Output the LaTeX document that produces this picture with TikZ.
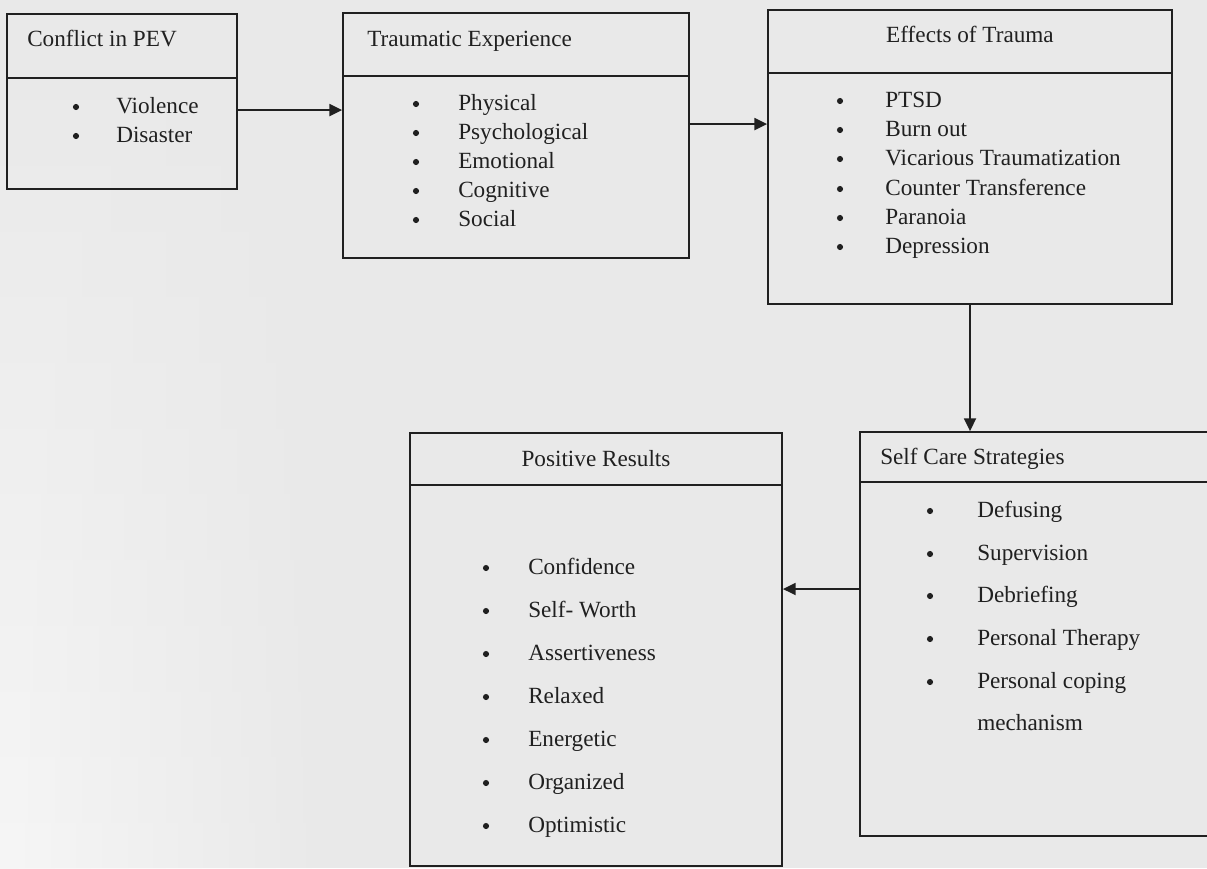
\documentclass[tikz,border=0pt]{standalone}
\usepackage{fontspec}
\setmainfont{Liberation Serif}
\usetikzlibrary{arrows.meta,fadings}
\definecolor{paper}{RGB}{233,233,233}
\definecolor{ink}{RGB}{32,32,32}
\newcommand{\pfont}{\fontsize{17.4}{20}\selectfont}
\tikzset{
  box/.style={draw=ink, line width=1.35pt, inner sep=0pt},
  head/.style={text=ink, inner sep=0pt, font=\pfont},
  bul/.style={circle, fill=ink, inner sep=0pt, minimum size=4.6pt},
  itm/.style={text=ink, inner sep=0pt, anchor=base west, font=\pfont},
  flow/.style={draw=ink, line width=1.35pt, -{Triangle[length=9.5pt,width=9pt]}}
}
% box with a header line: name, x1, y1, x2, y2, y of header line
\newcommand{\listbox}[6]{\node[box, minimum width={(#4-#2)*0.75pt}, minimum height={(#5-#3)*0.75pt}] (#1) at ({(#2+#4)/2},{(#3+#5)/2}) {};
  \draw[ink, line width=1.35pt] (#1.west |- 0,#6) -- (#1.east |- 0,#6);}
% bullet item: name, bullet x, text x, baseline y, text
\newcommand{\bitem}[5]{\node[bul] (#1b) at (#2,#4-6) {}; \node[itm] (#1) at (#3,#4) {#5};}
\begin{document}
\begin{tikzpicture}[x=0.75pt, y=-0.75pt]
\useasboundingbox (0,0) rectangle (1207,868);
\fill[paper] (0,0) rectangle (1207,868);
\shade[top color=paper, bottom color=white!60!paper, path fading=east] (0,0) rectangle (330,868);
\clip (0,0) rectangle (1207,868);
% boxes
\listbox{conflict}{7}{14}{237}{189}{78}
\listbox{trauma}{343}{13}{689}{258}{76}
\listbox{effects}{768}{10}{1172}{304}{73}
\listbox{selfcare}{860}{432}{1212}{836}{482}
\listbox{positive}{410}{433}{782}{866}{485}
% headers
\node[head, anchor=base west] (conflicth) at (27,46) {Conflict in PEV};
\node[head, anchor=base west] (traumah) at (367,46) {Traumatic Experience};
\node[head, anchor=base] (effectsh) at (970,42) {Effects of Trauma};
\node[head, anchor=base west] (selfcareh) at (880,464) {Self Care Strategies};
\node[head, anchor=base] (positiveh) at (596,466) {Positive Results};
% conflict items
\bitem{conf1}{76}{116}{113}{Violence}
\bitem{conf2}{76}{116}{142}{Disaster}
% trauma items
\bitem{trau1}{416}{458}{110}{Physical}
\bitem{trau2}{416}{458}{139}{Psychological}
\bitem{trau3}{416}{458}{168}{Emotional}
\bitem{trau4}{416}{458}{197}{Cognitive}
\bitem{trau5}{416}{458}{226}{Social}
% effects items
\bitem{eff1}{840}{885}{107}{PTSD}
\bitem{eff2}{840}{885}{136}{Burn out}
\bitem{eff3}{840}{885}{165}{Vicarious Traumatization}
\bitem{eff4}{840}{885}{195}{Counter Transference}
\bitem{eff5}{840}{885}{224}{Paranoia}
\bitem{eff6}{840}{885}{253}{Depression}
% self care items
\bitem{care1}{930}{977}{517}{Defusing}
\bitem{care2}{930}{977}{560}{Supervision}
\bitem{care3}{930}{977}{602}{Debriefing}
\bitem{care4}{930}{977}{645}{Personal Therapy}
\bitem{care5}{930}{977}{688}{Personal coping}
\node[itm] (care5b2) at (977,730) {mechanism};
% positive items
\bitem{pos1}{486}{528}{574}{Confidence}
\bitem{pos2}{486}{528}{617}{Self- Worth}
\bitem{pos3}{486}{528}{660}{Assertiveness}
\bitem{pos4}{486}{528}{703}{Relaxed}
\bitem{pos5}{486}{528}{746}{Energetic}
\bitem{pos6}{486}{528}{789}{Organized}
\bitem{pos7}{486}{528}{832}{Optimistic}
% arrows
\coordinate (a1) at ([yshift=-6.4pt]conflict.east);
\coordinate (a2) at ([yshift=8.6pt]trauma.east);
\coordinate (a4) at ([yshift=33.75pt]selfcare.west);
\draw[flow] (a1) -- (a1 -| trauma.west);
\draw[flow] (a2) -- (a2 -| effects.west);
\draw[flow] (effects.south) -- (effects.south |- selfcare.north);
\draw[flow] (a4) -- (a4 -| positive.east);
\end{tikzpicture}
\end{document}
